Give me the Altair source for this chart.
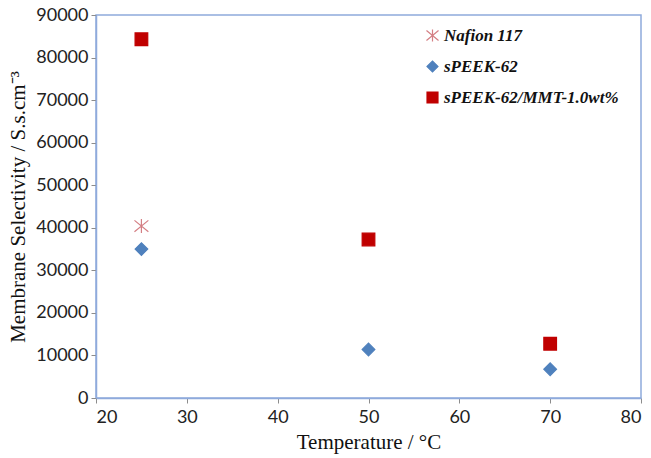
import altair as alt
import pandas as pd

series_names = ["Nafion 117", "sPEEK-62", "sPEEK-62/MMT-1.0wt%"]

nafion_temp = [25]
nafion_sel = [40400]

speek_temp = [25, 50, 70]
speek_sel = [35000, 11400, 6750]

mmt_temp = [25, 50, 70]
mmt_sel = [84300, 37250, 12750]

rows = []
for t, v in zip(nafion_temp, nafion_sel):
    rows.append({"Temperature": t, "Selectivity": v, "Series": series_names[0]})
for t, v in zip(speek_temp, speek_sel):
    rows.append({"Temperature": t, "Selectivity": v, "Series": series_names[1]})
for t, v in zip(mmt_temp, mmt_sel):
    rows.append({"Temperature": t, "Selectivity": v, "Series": series_names[2]})
df = pd.DataFrame(rows)

asterisk = "M-1.1,-0.9L1.1,0.9M-1.1,0.9L1.1,-0.9M0,-1.1L0,1.1"
frame_color = "#8FAADC"

chart = alt.Chart(df).mark_point(size=160, strokeWidth=1.2, opacity=1).encode(
    x=alt.X("Temperature:Q",
            scale=alt.Scale(domain=[20, 80], nice=False, zero=False),
            axis=alt.Axis(values=[20, 30, 40, 50, 60, 70, 80], title="Temperature / °C", grid=False)),
    y=alt.Y("Selectivity:Q",
            scale=alt.Scale(domain=[0, 90000], nice=False),
            axis=alt.Axis(values=list(range(0, 90001, 10000)), format="d",
                          title="Membrane Selectivity / S.s.cm⁻³", grid=False)),
    shape=alt.Shape("Series:N", scale=alt.Scale(domain=series_names, range=[asterisk, "diamond", "square"]),
                    legend=alt.Legend(title=None)),
    fill=alt.Fill("Series:N", scale=alt.Scale(domain=series_names, range=["transparent", "#4F81BD", "#C00000"]),
                  legend=alt.Legend(title=None)),
    stroke=alt.Stroke("Series:N", scale=alt.Scale(domain=series_names, range=["#D47F84", "#4F81BD", "#C00000"]),
                      legend=alt.Legend(title=None)),
).properties(
    width=545, height=383,
    autosize=alt.AutoSizeParams(type="none"),
    padding={"left": 96, "top": 15, "right": 10, "bottom": 60},
).configure_view(
    stroke=frame_color, strokeWidth=1.5
).configure_axis(
    domainColor=frame_color, domainWidth=1.5,
    tickColor="#8C8C8C", tickSize=5,
    labelFont="Lato", labelFontSize=18, labelColor="#222222",
    titleFont="Liberation Serif", titleFontSize=21, titleFontWeight="normal", titleColor="#111111",
).configure_axisY(
    labelPadding=3, titlePadding=7,
).configure_axisX(
    labelPadding=5, titlePadding=5,
).configure_legend(
    orient="none", legendX=328, legendY=12,
    labelFont="Liberation Serif", labelFontSize=17, labelFontStyle="italic", labelFontWeight="bold",
    labelColor="#111111", symbolSize=120, symbolStrokeWidth=1.2, rowPadding=13,
    labelOffset=3, labelLimit=300,
)

chart.save("out.html", embed_options={"renderer": "svg", "actions": False})
